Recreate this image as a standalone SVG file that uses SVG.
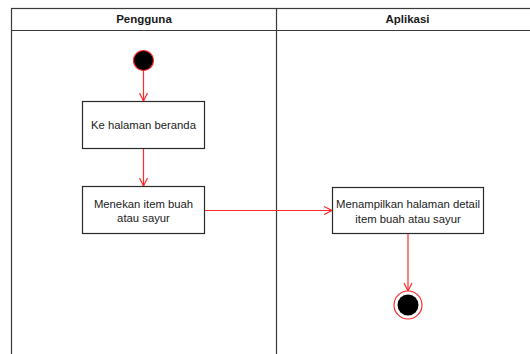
<svg xmlns="http://www.w3.org/2000/svg" width="530" height="354" viewBox="0 0 530 354">
  <style>
    .lane { fill: none; stroke: #3a3a3a; stroke-width: 1.2; }
    .head { font-family: "Liberation Sans", Arial, sans-serif; font-size: 11.5px; font-weight: bold; fill: #1a1a1a; text-anchor: middle; }
    .act rect { fill: #ffffff; stroke: #2a2a2a; stroke-width: 1.2; }
    .act text { font-family: "Liberation Sans", Arial, sans-serif; font-size: 11.3px; fill: #222222; text-anchor: middle; }
    .flow { fill: none; stroke: #ff2a2a; stroke-width: 1.2; }
  </style>
  <defs>
    <marker id="open" viewBox="0 0 10 10" refX="9" refY="5" markerWidth="10" markerHeight="10" markerUnits="userSpaceOnUse" orient="auto">
      <path d="M1,1 L9,5 L1,9" fill="none" stroke="#ff2a2a" stroke-width="1.2"/>
    </marker>
  </defs>
  <rect width="530" height="354" fill="#ffffff"/>

  <!-- swimlanes -->
  <g id="lanes">
    <rect class="lane" x="11.5" y="8.5" width="530" height="360"/>
    <line class="lane" x1="11.5" y1="30.5" x2="541" y2="30.5"/>
    <line class="lane" x1="276.5" y1="8.5" x2="276.5" y2="360"/>
    <text class="head" x="144" y="23">Pengguna</text>
    <text class="head" x="407.5" y="23">Aplikasi</text>
  </g>

  <!-- connectors -->
  <g id="connectors">
    <line class="flow" x1="143.5" y1="70" x2="143.5" y2="101" marker-end="url(#open)"/>
    <line class="flow" x1="143.5" y1="149" x2="143.5" y2="186" marker-end="url(#open)"/>
    <line class="flow" x1="205" y1="210.5" x2="332" y2="210.5" marker-end="url(#open)"/>
    <line class="flow" x1="408" y1="234" x2="408" y2="291" marker-end="url(#open)"/>
  </g>

  <g id="start">
    <circle cx="143.5" cy="60.5" r="10" fill="#000000" stroke="#ff2a2a" stroke-width="1.2"/>
  </g>

  <g id="beranda" class="act">
    <rect x="82.5" y="101.5" width="122" height="47"/>
    <text x="143.5" y="129">Ke halaman beranda</text>
  </g>

  <g id="menekan" class="act">
    <rect x="82.5" y="186.5" width="122" height="47"/>
    <text x="143.5" y="207.5">Menekan item buah</text>
    <text x="143.5" y="222">atau sayur</text>
  </g>

  <g id="menampilkan" class="act">
    <rect x="332.5" y="187.5" width="151" height="46"/>
    <text x="408" y="208">Menampilkan halaman detail</text>
    <text x="408" y="222.5">item buah atau sayur</text>
  </g>

  <g id="end">
    <circle cx="408" cy="305" r="14" fill="#ffffff" stroke="#ff2a2a" stroke-width="1.2"/>
    <circle cx="408" cy="305" r="10.5" fill="#000000"/>
  </g>
</svg>
